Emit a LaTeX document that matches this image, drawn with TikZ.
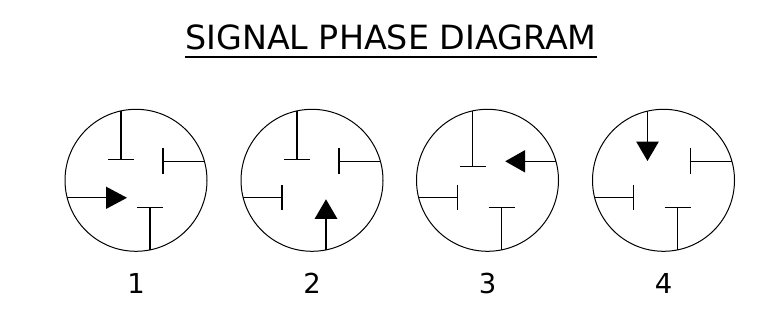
\documentclass[tikz,border=0pt]{standalone}
\usepackage{fontspec}
\setmainfont{DejaVu Sans}
\usepackage{tikz}

\tikzset{
  ring/.style={draw=black,line width=0.75pt},
  stem/.style={draw=black,line width=0.8pt},
  head/.style={fill=black},
  phaselabel/.style={font=\fontsize{20.6}{24}\selectfont,text=black,anchor=base,inner sep=0pt}
}

\begin{document}
\begin{tikzpicture}[x=0.75pt,y=0.75pt]
\useasboundingbox (0,0) rectangle (760,324);

\node[font=\fontsize{25}{30}\selectfont,text=black,anchor=base,inner sep=0pt] (title) at (391,274) {SIGNAL PHASE DIAGRAM};
\draw[line width=1.9pt] ([yshift=-5.4pt]title.base west) -- ([yshift=-5.4pt]title.base east);

% phase 1
\begin{scope}[shift={(136,143.7)}]
\draw[ring] (0,0) circle (71);
\draw[stem] (-15,69.4) -- (-15,21);
\draw[stem] (-28,21) -- (-2,21);
\draw[stem] (68.4,19) -- (27,19);
\draw[stem] (27,32) -- (27,6);
\draw[stem] (14,-69.6) -- (14,-27.4);
\draw[stem] (1,-27.4) -- (27,-27.4);
\draw[stem] (-68.8,-17.5) -- (-30,-17.5);
\fill[head] (-30,-6.3) -- (-9,-17.5) -- (-30,-28.7) -- cycle;
\end{scope}
\node[phaselabel] (lab1) at (136,30.5) {1};

% phase 2
\begin{scope}[shift={(312,143.7)}]
\draw[ring] (0,0) circle (71);
\draw[stem] (-15,69.4) -- (-15,21);
\draw[stem] (-28,21) -- (-2,21);
\draw[stem] (68.4,19) -- (27,19);
\draw[stem] (27,32) -- (27,6);
\draw[stem] (-68.8,-17.5) -- (-30,-17.5);
\draw[stem] (-30,-5) -- (-30,-30);
\draw[stem] (14,-69.6) -- (14,-38.7);
\fill[head] (2.5,-38.7) -- (14,-19) -- (25.5,-38.7) -- cycle;
\end{scope}
\node[phaselabel] (lab2) at (312,30.5) {2};

% phase 3
\begin{scope}[shift={(487.5,143.7)}]
\draw[ring] (0,0) circle (71);
\draw[stem] (-15,69.4) -- (-15,14);
\draw[stem] (-28,14) -- (-2,14);
\draw[stem] (14,-69.6) -- (14,-27.4);
\draw[stem] (1,-27.4) -- (27,-27.4);
\draw[stem] (-68.8,-17.5) -- (-30,-17.5);
\draw[stem] (-30,-5) -- (-30,-30);
\draw[stem] (68.4,19) -- (37.7,19);
\fill[head] (37.7,30.3) -- (17.7,19) -- (37.7,7.7) -- cycle;
\end{scope}
\node[phaselabel] (lab3) at (487.5,30.5) {3};

% phase 4
\begin{scope}[shift={(663.5,143.7)}]
\draw[ring] (0,0) circle (71);
\draw[stem] (68.4,19) -- (27,19);
\draw[stem] (27,32) -- (27,6);
\draw[stem] (14,-69.6) -- (14,-27.4);
\draw[stem] (1,-27.4) -- (27,-27.4);
\draw[stem] (-68.8,-17.5) -- (-30,-17.5);
\draw[stem] (-30,-5) -- (-30,-30);
\draw[stem] (-16,69.2) -- (-16,38.6);
\fill[head] (-27.3,38.6) -- (-16,19.3) -- (-4.7,38.6) -- cycle;
\end{scope}
\node[phaselabel] (lab4) at (663.5,30.5) {4};

\end{tikzpicture}
\end{document}
